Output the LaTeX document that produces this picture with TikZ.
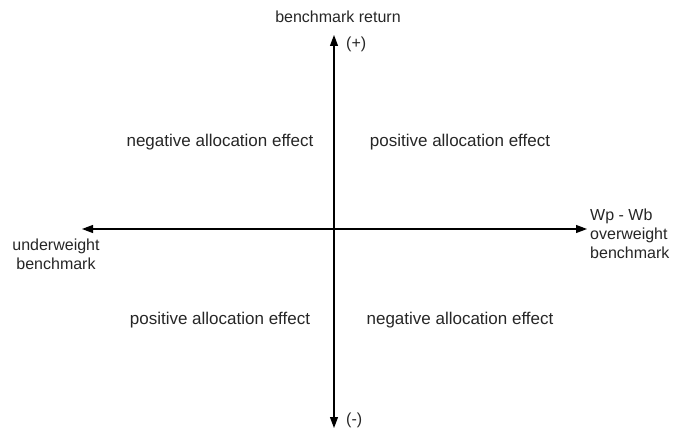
\documentclass[tikz,border=0pt]{standalone}
\usepackage{fontspec}
\setmainfont{Liberation Sans}
\usetikzlibrary{arrows.meta}
\begin{document}
\begin{tikzpicture}[x=1pt,y=-1pt,
  axis/.style={line width=1.1pt,{Triangle[length=11pt,width=8pt]}-{Triangle[length=11pt,width=8pt]}},
  lbl/.style={inner sep=0pt,font=\fontsize{16}{19}\selectfont,text=black!85},
  qlbl/.style={lbl,font=\fontsize{17}{19}\selectfont}]
\useasboundingbox (0,0) rectangle (676,430);
\coordinate (top) at (334,35);
\coordinate (bot) at (334,428);
\coordinate (lft) at (82,229);
\coordinate (rgt) at (587,229);
\draw[axis] (bot) -- (top);
\draw[axis] (lft) -- (rgt);
\node[lbl] (ytitle) at (338,17) {benchmark return};
\node[lbl,anchor=west] (plus) at (346,44) {(+)};
\node[lbl,anchor=west] (minus) at (346,420) {(-)};
\node[lbl,align=center] (under) at (56,254) {underweight\\benchmark};
\node[lbl,align=left,anchor=north west] (over) at (590,209) {Wp - Wb\\overweight\\benchmark};
\node[qlbl] (q2) at (220,142) {negative allocation effect};
\node[qlbl] (q1) at (460,142) {positive allocation effect};
\node[qlbl] (q3) at (220,320) {positive allocation effect};
\node[qlbl] (q4) at (460,320) {negative allocation effect};
\end{tikzpicture}
\end{document}
